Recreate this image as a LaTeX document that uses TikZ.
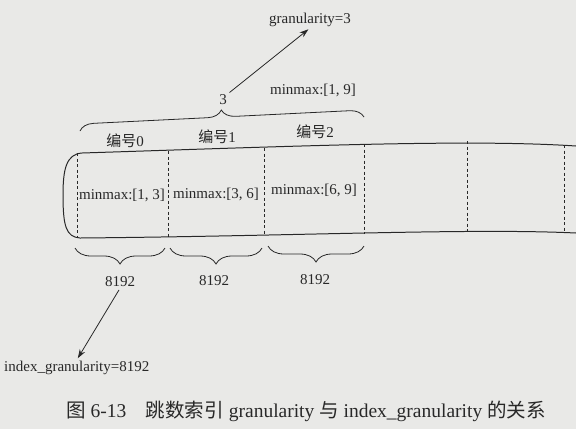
\documentclass[tikz,border=0pt]{standalone}
\usepackage{fontspec}
\setmainfont{Liberation Serif}
\newfontfamily\cjk{Noto Sans CJK SC}
\usetikzlibrary{arrows.meta,decorations.pathreplacing}
\definecolor{ink}{RGB}{40,40,40}
\definecolor{paper}{RGB}{233,233,231}

\begin{document}
\begin{tikzpicture}[x=1bp,y=-1bp,
  txt/.style={font=\fontsize{15bp}{18bp}\selectfont,text=ink,inner sep=1pt},
  brc/.style={decorate,decoration={brace,amplitude=#1},draw=ink,line width=0.8pt},
  ptr/.style={-{Stealth[length=9bp,width=6bp]},draw=ink,line width=0.8pt,shorten <=2bp,shorten >=2bp}]
\fill[paper] (0,0) rectangle (576,429);
\useasboundingbox (0,0) rectangle (576,429);

% the strip of granules
\draw[ink,line width=1pt] (576,146) .. controls (470,139) and (300,146) .. (82,153)
  .. controls (66,154) and (63,170) .. (63,195)
  .. controls (63,226) and (66,237) .. (80,238)
  .. controls (300,236) and (470,228) .. (576,233);
\foreach \x/\t/\b in {77/153/238,168/151/237,264/148/236,364/144/234,467/141/231,564/145/233}
  \draw[ink,line width=0.8pt,dash pattern=on 3bp off 2.5bp] (\x,\t) -- (\x,\b);

\node[txt] (mm0) at (122,195) {minmax:[1, 3]};
\node[txt] (mm1) at (216,194) {minmax:[3, 6]};
\node[txt] (mm2) at (314,190) {minmax:[6, 9]};

\node[txt] (id0) at (125,141) {{\cjk 编号}0};
\node[txt] (id1) at (217,137) {{\cjk 编号}1};
\node[txt] (id2) at (315,132) {{\cjk 编号}2};

% index granule: 3 marks
\draw[brc=14bp] (80,131) -- (364,117);
\node[txt] (three) at (223,100) {3};
\node[txt] (mmall) at (313,90) {minmax:[1, 9]};
\node[txt] (gran) at (310,20) {granularity=3};
\draw[ptr] (three.north east) -- (gran.south);

% marks: 8192 rows each
\draw[brc=16bp,decoration={mirror}] (75,248) -- (165,248);
\draw[brc=16bp,decoration={mirror}] (170,248) -- (262,248);
\draw[brc=16bp,decoration={mirror}] (268,246) -- (364,246);
\node[txt] (blk0) at (120,282) {8192};
\node[txt] (blk1) at (214,281) {8192};
\node[txt] (blk2) at (315,280) {8192};
\node[txt,anchor=west] (idx) at (3,368) {index\_granularity=8192};
\draw[ptr] (blk0.south) -- (idx.north);

\node[font=\fontsize{19.5bp}{23bp}\selectfont,text=ink] (cap) at (306,411)
  {{\cjk 图} 6-13\quad{\cjk 跳数索引} granularity {\cjk 与} index\_granularity {\cjk 的关系}};
\end{tikzpicture}
\end{document}
